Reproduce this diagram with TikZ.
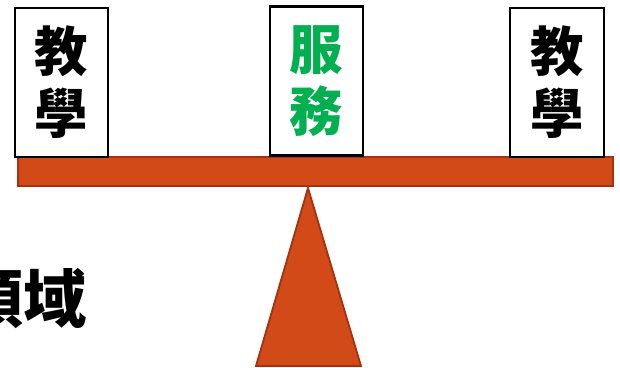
\documentclass[tikz,border=0pt]{standalone}
\usepackage{fontspec}
\newfontfamily\cjk{Noto Sans CJK TC}
\usepackage{tikz}
\usetikzlibrary{positioning}
\usepackage{xcolor}
\definecolor{beamred}{HTML}{D24A17}
\definecolor{beamedge}{HTML}{A3330E}
\definecolor{srvgreen}{HTML}{00B050}

\tikzset{
  duty/.style={draw=black, line width=1.3pt, fill=white, minimum width=2.33cm,
    minimum height=3.73cm, align=center, inner sep=0pt,
    font=\cjk\bfseries\fontsize{38}{44}\selectfont},
  part/.style={fill=beamred, draw=beamedge, line width=1.3pt}
}

\begin{document}
\begin{tikzpicture}[x=0.025cm, y=-0.025cm] % the seesaw

\useasboundingbox (0,0) rectangle (620,368);

%beam and fulcrum
\filldraw[part] (18,157) rectangle (613,186);
\filldraw[part, line join=miter] (308,188) -- (361,366) -- (256,366) -- cycle;

%boxes on the beam
\node[duty] (teachL) at (61.5,82.5) {教\\學};
\node[duty, line width=1.8pt, text=srvgreen] (serve) at (316.5,81) {服\\務};
\node[duty] (teachR) at (557,82.5) {教\\學};

%label, cut by the edge
\node[font=\cjk\bfseries\fontsize{45}{45}\selectfont] (field) at (24,298) {領域};

\end{tikzpicture}
\end{document}
